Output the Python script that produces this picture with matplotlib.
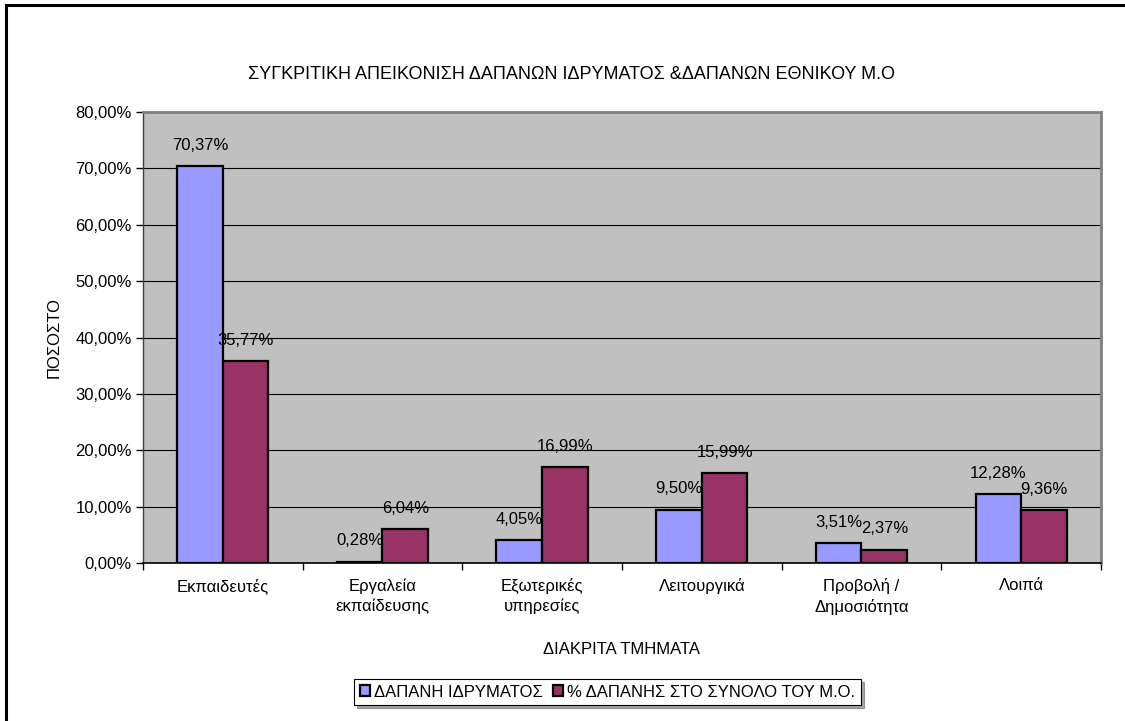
import matplotlib
matplotlib.use("Agg")
import matplotlib.pyplot as plt
from matplotlib.lines import Line2D
from matplotlib.ticker import FuncFormatter, MultipleLocator
import numpy as np

plt.rcParams['font.family'] = ['Liberation Sans', 'DejaVu Sans']

categories = ["Εκπαιδευτές", "Εργαλεία\nεκπαίδευσης", "Εξωτερικές\nυπηρεσίες",
              "Λειτουργικά", "Προβολή /\nΔημοσιότητα", "Λοιπά"]
idryma = [70.37, 0.28, 4.05, 9.50, 3.51, 12.28]
mo = [35.77, 6.04, 16.99, 15.99, 2.37, 9.36]
series_names = ["ΔΑΠΑΝΗ ΙΔΡΥΜΑΤΟΣ", "% ΔΑΠΑΝΗΣ ΣΤΟ ΣΥΝΟΛΟ ΤΟΥ Μ.Ο."]

def pct(v):
    return ("%.2f%%" % v).replace(".", ",")

fig = plt.figure(figsize=(11.25, 7.21), dpi=100)
ax = fig.add_axes([0.127, 0.219, 0.8517, 0.6256])
ax.set_facecolor("#C0C0C0")

x = np.arange(len(categories))
w = 1 / 3.5
b1 = ax.bar(x - w / 2, idryma, w, color="#9999FF", edgecolor="black", linewidth=1.6,
            label=series_names[0], zorder=3)
b2 = ax.bar(x + w / 2, mo, w, color="#993366", edgecolor="black", linewidth=1.6,
            label=series_names[1], zorder=3)

for bars, vals in ((b1, idryma), (b2, mo)):
    for r, v in zip(bars, vals):
        ax.annotate(pct(v), (r.get_x() + r.get_width() / 2, v), xytext=(0, 15),
                    textcoords="offset points", ha="center", va="center",
                    fontsize=12, zorder=4)

ax.set_xlim(-0.5, len(categories) - 0.5)
ax.set_ylim(0, 80)
ax.yaxis.set_major_locator(MultipleLocator(10))
ax.yaxis.set_major_formatter(FuncFormatter(lambda v, p: pct(v)))
ax.grid(axis="y", color="black", linewidth=0.8, zorder=1)
ax.set_axisbelow(True)

ax.set_xticks(x)
ax.set_xticklabels(categories, fontsize=12, linespacing=1.35)
ax.tick_params(axis="x", length=0, pad=11)
ax.set_xticks(np.arange(len(categories) + 1) - 0.5, minor=True)
ax.tick_params(axis="x", which="minor", length=5, width=1, direction="out")
ax.tick_params(axis="y", length=5, width=1, direction="out", labelsize=12, pad=3)

for s in ("top", "right"):
    ax.spines[s].set_color("#808080")
    ax.spines[s].set_linewidth(2)
ax.spines["left"].set_color("#404040")
ax.spines["left"].set_linewidth(1)
ax.spines["bottom"].set_color("black")
ax.spines["bottom"].set_linewidth(1.2)

ax.set_ylabel("ΠΟΣΟΣΤΟ", fontsize=12)
ax.yaxis.set_label_coords(-0.085, 0.5)
ax.set_xlabel("ΔΙΑΚΡΙΤΑ ΤΜΗΜΑΤΑ", fontsize=12)
ax.xaxis.set_label_coords(0.5, -0.176)

fig.text(0.508, 0.896, "ΣΥΓΚΡΙΤΙΚΗ ΑΠΕΙΚΟΝΙΣΗ ΔΑΠΑΝΩΝ ΙΔΡΥΜΑΤΟΣ &ΔΑΠΑΝΩΝ ΕΘΝΙΚΟΥ Μ.Ο",
         ha="center", va="center", fontsize=13)

leg = fig.legend(handles=[b1, b2], loc="center left", bbox_to_anchor=(0.3147, 0.040),
                 ncol=2, fontsize=12, frameon=True, fancybox=False, shadow=True,
                 edgecolor="black", handlelength=0.6, handleheight=0.6,
                 handletextpad=0.25, columnspacing=0.6, borderpad=0.35,
                 borderaxespad=0)
leg.get_frame().set_linewidth(0.8)

# outer chart border (only top and left visible in the original)
fig.add_artist(Line2D([0.0055, 0.0055], [0, 0.993], transform=fig.transFigure,
                      color="black", linewidth=2.2))
fig.add_artist(Line2D([0.0055, 1], [0.993, 0.993], transform=fig.transFigure,
                      color="black", linewidth=2.2))

fig.savefig("out.png", dpi=100)
